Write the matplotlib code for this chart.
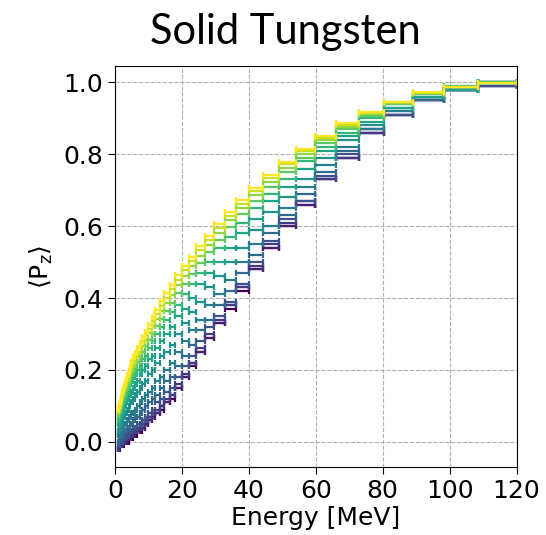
import matplotlib
matplotlib.use('Agg')
import matplotlib.pyplot as plt
import numpy as np

# energy bin edges [MeV]
bin_edges = [1.00, 1.10, 1.22, 1.35, 1.49, 1.65, 1.82, 2.01, 2.22, 2.45, 2.71, 3.00, 3.31, 3.66,
             4.04, 4.46, 4.93, 5.45, 6.02, 6.65, 7.35, 8.12, 8.97, 9.91, 10.95, 12.10, 13.37,
             14.78, 16.33, 18.04, 19.93, 22.02, 24.33, 26.88, 29.70, 32.81, 36.26, 40.06, 44.26,
             48.90, 54.03, 59.70, 65.96, 72.88, 80.52, 88.97, 98.30, 108.61, 120.00]

# <Pz> in percent, one row per curve (purple -> yellow)
pz_percent = [
    [-2, -2, -2, -1, -1, -1, -1, -1, -1, -1, 0, 0, 0, 0, 1, 1, 1, 2, 2, 3, 3, 4, 5, 6, 7, 8, 9, 11,
     12, 15, 18, 21, 25, 29, 33, 37, 42, 48, 54, 60, 66, 73, 79, 86, 91, 95, 98, 99],
    [-2, -2, -1, -1, -1, -1, -1, -1, -1, 0, 0, 0, 0, 1, 1, 1, 2, 2, 3, 3, 4, 4, 5, 6, 7, 8, 10, 11,
     13, 15, 18, 22, 25, 29, 33, 38, 43, 48, 54, 60, 66, 73, 79, 86, 91, 95, 98, 99],
    [-2, -2, -1, -1, -1, 0, 0, 0, 0, 0, 1, 1, 1, 1, 2, 2, 2, 3, 3, 4, 4, 5, 6, 7, 8, 9, 10, 12,
     13, 16, 19, 22, 26, 30, 34, 38, 43, 49, 55, 61, 67, 73, 79, 86, 91, 95, 98, 99],
    [-1, -1, -1, 0, 0, 0, 0, 0, 0, 0, 1, 1, 2, 2, 3, 3, 3, 4, 4, 5, 5, 6, 7, 8, 9, 11, 12, 14,
     15, 18, 21, 24, 28, 32, 35, 39, 44, 50, 56, 62, 67, 74, 80, 87, 91, 95, 98, 99],
    [0, 0, 1, 1, 1, 1, 1, 2, 2, 2, 3, 3, 3, 4, 4, 5, 5, 6, 7, 7, 8, 9, 10, 11, 12, 13, 15, 17,
     18, 21, 24, 27, 31, 34, 38, 42, 47, 52, 58, 63, 69, 75, 81, 87, 92, 95, 98, 100],
    [2, 2, 2, 2, 2, 3, 3, 3, 4, 4, 5, 5, 5, 6, 7, 7, 8, 8, 9, 10, 11, 12, 13, 14, 15, 17, 18, 20,
     22, 25, 28, 31, 34, 38, 41, 45, 50, 55, 60, 65, 71, 77, 82, 87, 92, 96, 98, 100],
    [3, 4, 4, 4, 5, 5, 5, 6, 6, 7, 7, 8, 8, 9, 10, 11, 11, 12, 13, 14, 15, 16, 17, 19, 20, 22, 24,
     25, 27, 30, 33, 36, 39, 43, 46, 50, 54, 59, 64, 68, 73, 79, 84, 88, 93, 96, 98, 100],
    [5, 5, 6, 6, 6, 7, 7, 8, 8, 9, 10, 10, 11, 12, 13, 13, 14, 15, 16, 17, 19, 20, 21, 23, 24, 26,
     28, 30, 32, 35, 37, 40, 44, 47, 50, 54, 58, 62, 67, 71, 76, 81, 85, 89, 93, 96, 98, 100],
    [6, 7, 7, 8, 8, 8, 9, 10, 10, 11, 12, 12, 13, 14, 15, 16, 17, 18, 19, 20, 21, 23, 24, 26, 28,
     30, 32, 34, 36, 38, 41, 44, 47, 50, 54, 57, 61, 65, 69, 73, 78, 82, 86, 90, 94, 97, 99, 100],
    [7.4, 7.8, 8.2, 8.6, 9.1, 9.6, 10.2, 10.8, 11.5, 12.3, 13.0, 13.8, 14.7, 15.6, 16.6, 17.7,
     18.8, 20.0, 21.1, 22.3, 23.6, 25.1, 26.6, 28.3, 30.1, 32.1, 34.3, 36.4, 38.7, 41.3, 44.0,
     46.7, 49.7, 52.8, 56.1, 59.7, 63.3, 67.0, 70.9, 75.0, 79.0, 83.1, 87.0, 90.7, 94.0, 96.8,
     98.7, 99.8],
    [8.2, 8.6, 9.0, 9.5, 10.0, 10.5, 11.1, 11.8, 12.6, 13.4, 14.1, 15.0, 15.9, 16.9, 17.9, 19.1,
     20.3, 21.5, 22.6, 23.9, 25.3, 26.8, 28.4, 30.2, 32.1, 34.2, 36.4, 38.5, 40.9, 43.5, 46.1,
     48.8, 51.8, 54.8, 58.0, 61.6, 65.0, 68.6, 72.3, 76.3, 80.1, 84.0, 87.7, 91.1, 94.2, 97.0,
     98.7, 99.8],
    [8.7, 9.1, 9.6, 10.1, 10.6, 11.2, 11.8, 12.5, 13.3, 14.1, 14.9, 15.8, 16.7, 17.8, 18.9, 20.1,
     21.3, 22.6, 23.8, 25.1, 26.5, 28.1, 29.7, 31.5, 33.5, 35.6, 37.9, 40.1, 42.5, 45.1, 47.7,
     50.3, 53.3, 56.2, 59.4, 62.9, 66.2, 69.7, 73.3, 77.2, 80.8, 84.6, 88.2, 91.4, 94.4, 97.1,
     98.8, 99.9],
    [9.2, 9.6, 10.0, 10.5, 11.1, 11.7, 12.3, 13.1, 13.9, 14.7, 15.5, 16.4, 17.4, 18.5, 19.7, 20.8,
     22.2, 23.5, 24.7, 26.0, 27.5, 29.1, 30.7, 32.6, 34.6, 36.8, 39.1, 41.3, 43.7, 46.3, 48.9,
     51.5, 54.5, 57.4, 60.5, 64.0, 67.2, 70.6, 74.1, 77.9, 81.4, 85.1, 88.6, 91.7, 94.6, 97.2,
     98.8, 99.9],
]

plt.rcParams['mathtext.fontset'] = 'dejavusans'
fig = plt.figure(figsize=(5.46, 5.35), dpi=100)
ax = fig.add_axes([0.2106, 0.127, 0.7354, 0.75])

edges = np.array(bin_edges)
centers = (edges[:-1] + edges[1:]) / 2
half_width = (edges[1:] - edges[:-1]) / 2
colors = plt.cm.viridis(np.linspace(0, 1, len(pz_percent)))

for row, c in zip(pz_percent, colors):
    ax.errorbar(centers, np.array(row) / 100, xerr=half_width, fmt='none',
                ecolor=c, capsize=2, elinewidth=1.6, capthick=1.6)

ax.set_xlim(0, 120)
ax.set_ylim(-0.07, 1.046)
ax.set_xticks([0, 20, 40, 60, 80, 100, 120])
ax.set_yticks([0.0, 0.2, 0.4, 0.6, 0.8, 1.0])
ax.tick_params(labelsize=18, length=5)
ax.grid(True, linestyle='--', color='#b0b0b0', linewidth=0.8)
ax.set_xlabel('Energy [MeV]', fontsize=18, labelpad=2)
ax.set_ylabel(r'$\langle\mathrm{P_z}\rangle$', fontsize=18, labelpad=6)
fig.text(0.522, 0.918, 'Solid Tungsten', fontsize=30, family='Lato',
         ha='center', va='baseline')

fig.savefig('out.png')
